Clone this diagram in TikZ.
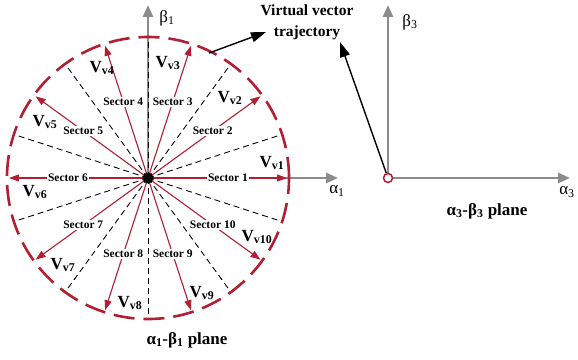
\documentclass[tikz,border=0pt]{standalone}
\usepackage{fontspec}
\setmainfont{Liberation Serif}
\usetikzlibrary{arrows.meta}
\definecolor{vred}{RGB}{178,30,50}
\definecolor{axisgray}{RGB}{140,140,140}

\begin{document}
\begin{tikzpicture}[x=1pt, y=1pt,
    axis/.style={draw=axisgray, line width=2.6pt, -{Triangle[length=12pt, width=10pt]}},
    vec/.style={draw=vred, line width=1.1pt, -{Triangle[length=10pt, width=7pt]}},
    border/.style={black, dash pattern=on 6pt off 4pt, line width=0.9pt},
    pointer/.style={draw=black, line width=1.4pt, -{Triangle[length=15pt, width=10pt]}},
    seclbl/.style={fill=white, inner sep=1pt, font=\fontsize{11.5}{13}\selectfont\bfseries},
    vlbl/.style={font=\fontsize{17}{19}\selectfont\bfseries},
    axlbl/.style={font=\fontsize{17}{19}\selectfont},
    plane/.style={font=\fontsize{17}{19}\selectfont\bfseries}
]
    \useasboundingbox (-148,-181) rectangle (430,178);

    % Origins of both planes
    \coordinate (o1) at (0,0);
    \coordinate (o3) at (240,0);

    % Axes of the alpha1-beta1 plane
    \coordinate (b1tip) at (0,173);
    \coordinate (a1tip) at (190,0);
    \draw[axis] (o1) -- (b1tip);
    \draw[axis] (o1) -- (a1tip);
    \node[axlbl] (b1) at (19,160) {β\textsubscript{1}};
    \node[axlbl] (a1) at (189,-13) {α\textsubscript{1}};

    % Sector borders
    \foreach \a in {18,54,...,342}
        \draw[border] (o1) -- (\a:139);

    % Virtual vectors and sector names
    \foreach \i in {1,...,10} {
        \draw[vec] (o1) -- ({36*(\i-1)}:139) coordinate (v\i);
        \node[seclbl] (s\i) at ({36*(\i-1)}:80) {Sector \i};
    }

    % Trajectory circle
    \draw[vred, line width=2.6pt, dash pattern=on 21pt off 9pt] (o1) circle (141);

    % Vector names
    \foreach \i/\px/\py in {1/124/15, 2/82/80, 3/20/115, 4/-46/110, 5/-103/56,
                            6/-113/-14, 7/-85/-87, 8/-18/-125, 9/54/-115, 10/109/-59}
        \node[vlbl] (n\i) at (\px,\py) {V\textsubscript{v\i}};

    % Center dot
    \node[circle, fill=black, minimum size=11pt, inner sep=0pt] (dot1) at (o1) {};
    \node[plane] (p1) at (39,-162) {α\textsubscript{1}-β\textsubscript{1} plane};

    % Axes of the alpha3-beta3 plane
    \coordinate (b3tip) at (240,173);
    \coordinate (a3tip) at (422,0);
    \draw[axis] (o3) -- (b3tip);
    \draw[axis] (o3) -- (a3tip);
    \node[axlbl] (b3) at (262,156) {β\textsubscript{3}};
    \node[axlbl] (a3) at (419,-14) {α\textsubscript{3}};
    \node[circle, draw=vred, line width=1.5pt, fill=white, minimum size=9pt, inner sep=0pt] (ring3) at (o3) {};
    \node[plane] (p3) at (339,-33) {α\textsubscript{3}-β\textsubscript{3} plane};

    % Virtual vector trajectory callout
    \node[align=center, font=\fontsize{15.5}{21}\selectfont\bfseries] (vvt) at (159,156) {Virtual vector\\trajectory};
    \coordinate (traj1) at (64:139);
    \coordinate (tip1) at (118,146);
    \coordinate (tip3) at (192,136);
    \draw[pointer] (traj1) -- (tip1);
    \draw[pointer] (ring3) -- (tip3);
\end{tikzpicture}
\end{document}
